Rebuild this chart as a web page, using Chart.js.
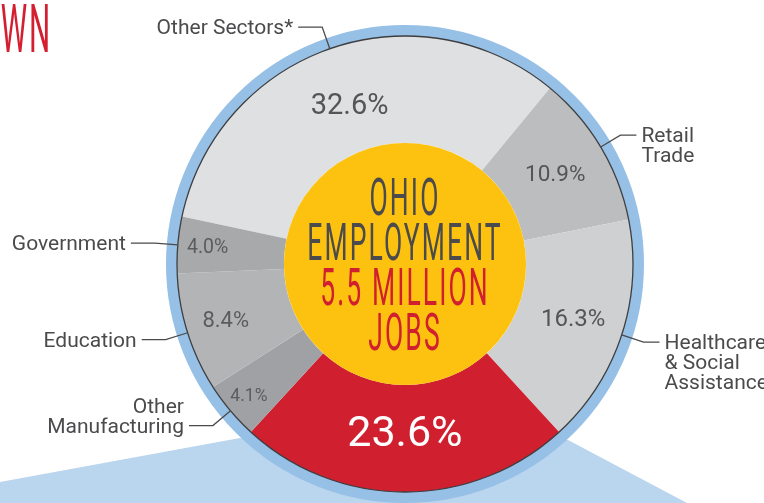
<!DOCTYPE html>
<html>
<head>
<meta charset="utf-8">
<script src="https://cdn.jsdelivr.net/npm/chart.js@4"></script>
<style>
  html, body { margin: 0; padding: 0; background: #ffffff; }
  #wrap { width: 764px; height: 503px; position: relative; overflow: hidden; }
  canvas { display: block; }
</style>
</head>
<body>
<div id="wrap"><canvas id="c" width="764" height="503"></canvas></div>
<script>
// ---- data ----
const categories = ['Other Sectors*', 'Retail Trade', 'Healthcare & Social Assistance', 'Manufacturing', 'Other Manufacturing', 'Education', 'Government'];
const shares = [32.6, 10.9, 16.3, 23.6, 4.1, 8.4, 4.0];
const shareLabels = ['32.6%', '10.9%', '16.3%', '23.6%', '4.1%', '8.4%', '4.0%'];
const calloutLines = [['Other Sectors*'], ['Retail', 'Trade'], ['Healthcare', '& Social', 'Assistance'], [], ['Other', 'Manufacturing'], ['Education'], ['Government']];
const centerLines = ['OHIO', 'EMPLOYMENT', '5.5 MILLION', 'JOBS'];
const titleFragment = 'WN';

// ---- styles ----
const sliceColors = ['#dfe0e2', '#bcbdbf', '#cfd0d2', '#d01f2f', '#a0a1a4', '#b3b4b6', '#a8a9ab'];
const pctStyle = [
  { size: 29, r: 168, color: '#555557' },
  { size: 22.5, r: 175, color: '#555557' },
  { size: 24, r: 177, color: '#555557' },
  { size: 43, r: 170, color: '#ffffff' },
  { size: 17.5, r: 204, color: '#5c5c5e' },
  { size: 22, r: 188, color: '#5c5c5e' },
  { size: 19.5, r: 198, color: '#5c5c5e' }
];
const ringBlue = '#96c0e6';
const calloutBlue = '#bad5ee';
const yellow = '#fdc20f';
const darkText = '#4b4b4d';
const red = '#d01f2f';

const decorPlugin = {
  id: 'decor',
  beforeDatasetsDraw(chart) {
    const ctx = chart.ctx;
    const arc0 = chart.getDatasetMeta(0).data[0];
    const cx = arc0.x, cy = arc0.y, R = arc0.outerRadius;
    ctx.save();
    // light blue callout wedge behind the pie
    ctx.fillStyle = calloutBlue;
    ctx.beginPath();
    ctx.moveTo(cx - 405, cy + 218);
    ctx.lineTo(cx - 165, cy + 174);
    ctx.lineTo(cx + 163, cy + 176);
    ctx.lineTo(cx + 282, cy + 239);
    ctx.lineTo(cx + 282, cy + 260);
    ctx.lineTo(cx - 405, cy + 260);
    ctx.closePath();
    ctx.fill();
    // blue outer ring
    ctx.strokeStyle = ringBlue;
    ctx.lineWidth = 11;
    ctx.beginPath();
    ctx.arc(cx, cy, R + 5.5, 0, Math.PI * 2);
    ctx.stroke();
    ctx.restore();
  },
  afterDatasetsDraw(chart) {
    const ctx = chart.ctx;
    const meta = chart.getDatasetMeta(0);
    const arc0 = meta.data[0];
    const cx = arc0.x, cy = arc0.y, R = arc0.outerRadius, r0 = arc0.innerRadius;
    ctx.save();
    // dark rim line
    ctx.strokeStyle = '#3e3e40';
    ctx.lineWidth = 1.3;
    ctx.beginPath();
    ctx.arc(cx, cy, R, 0, Math.PI * 2);
    ctx.stroke();
    // yellow centre disc
    ctx.fillStyle = yellow;
    ctx.beginPath();
    ctx.arc(cx, cy, r0, 0, Math.PI * 2);
    ctx.fill();

    // percent labels
    ctx.textAlign = 'center';
    ctx.textBaseline = 'middle';
    meta.data.forEach((arc, i) => {
      const a = (arc.startAngle + arc.endAngle) / 2;
      const st = pctStyle[i];
      ctx.font = st.size + 'px Roboto';
      ctx.fillStyle = st.color;
      ctx.fillText(shareLabels[i], cx + st.r * Math.cos(a), cy + st.r * Math.sin(a) + 1);
    });

    // callouts
    ctx.strokeStyle = '#4a4a4c';
    ctx.lineWidth = 1.3;
    ctx.font = '21px Roboto';
    ctx.fillStyle = darkText;
    ctx.textBaseline = 'alphabetic';
    meta.data.forEach((arc, i) => {
      const lines = calloutLines[i];
      if (!lines.length) return;
      const a = (arc.startAngle + arc.endAngle) / 2;
      const ax = cx + R * Math.cos(a), ay = cy + R * Math.sin(a);
      const ex = cx + (R + 23) * Math.cos(a), ey = cy + (R + 23) * Math.sin(a);
      const right = Math.cos(a) > 0;
      const hx = ex + (right ? 16 : -24);
      ctx.beginPath();
      ctx.moveTo(ax, ay);
      ctx.lineTo(ex, ey);
      ctx.lineTo(hx, ey);
      ctx.stroke();
      const tx = hx + (right ? 5 : -5);
      ctx.textAlign = right ? 'left' : 'right';
      const lh = 20;
      lines.forEach((ln, k) => {
        const offset = right ? k : k - (lines.length - 1);
        ctx.fillText(ln, tx, ey + 7 + offset * lh);
      });
    });

    // centre title text (condensed)
    const sx = 0.52;
    ctx.font = '51px Roboto';
    ctx.textAlign = 'center';
    ctx.textBaseline = 'alphabetic';
    try { ctx.letterSpacing = '4px'; } catch (e) {}
    const baseOffsets = [-49, -4, 41, 86];
    centerLines.forEach((ln, k) => {
      ctx.save();
      ctx.translate(cx, cy + baseOffsets[k]);
      ctx.scale(sx, 1);
      ctx.fillStyle = k < 2 ? darkText : red;
      ctx.fillText(ln, 0, 0);
      ctx.restore();
    });

    // title fragment, top-left
    ctx.save();
    ctx.translate(52, 52);
    ctx.scale(0.45, 1);
    ctx.font = '66px Roboto';
    ctx.textAlign = 'right';
    ctx.fillStyle = '#d41f31';
    ctx.fillText(titleFragment, 0, 0);
    ctx.restore();
    try { ctx.letterSpacing = '0px'; } catch (e) {}
    ctx.restore();
  }
};

new Chart(document.getElementById('c'), {
  type: 'doughnut',
  data: {
    labels: categories,
    datasets: [{
      data: shares,
      backgroundColor: sliceColors,
      borderWidth: 0,
      hoverOffset: 0
    }]
  },
  options: {
    responsive: false,
    animation: false,
    devicePixelRatio: 1,
    radius: 228,
    cutout: '53.1%',
    rotation: -78,
    layout: { padding: { left: 100, right: 54, top: 25, bottom: 0 } },
    plugins: {
      legend: { display: false },
      tooltip: { enabled: false },
      title: { display: false }
    }
  },
  plugins: [decorPlugin]
});
</script>
</body>
</html>
